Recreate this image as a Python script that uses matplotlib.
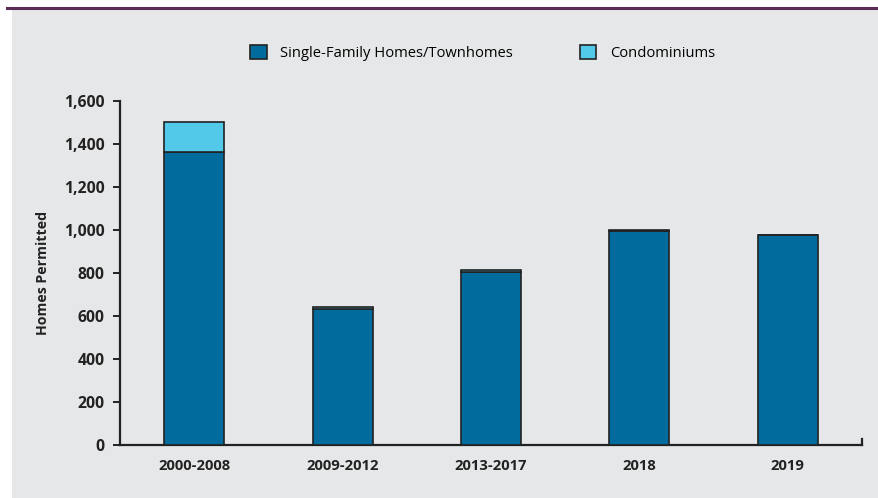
import matplotlib.pyplot as plt
from matplotlib.patches import Rectangle
from matplotlib.lines import Line2D
from matplotlib.ticker import FuncFormatter

# Homes permitted by period
periods = ['2000-2008', '2009-2012', '2013-2017', '2018', '2019']
single_family = [1362, 633, 804, 997, 976]
condos = [138, 7, 8, 3, 3]

sf_color = '#006b9c'
condo_color = '#52c9e9'
bg_color = '#e6e7e8'
edge = '#222222'

plt.rcParams['font.family'] = ['Open Sans', 'DejaVu Sans']

fig = plt.figure(figsize=(8.79, 4.98), dpi=100)
fig.patch.set_facecolor('white')

# grey panel and purple rule along the top
fig.add_artist(Rectangle((12 / 879, 0), 1, 1 - 10 / 498, transform=fig.transFigure,
                         facecolor=bg_color, edgecolor='none', zorder=0))
fig.add_artist(Line2D([7 / 879, 1], [1 - 8 / 498, 1 - 8 / 498], transform=fig.transFigure,
                      color='#5b2c55', linewidth=2.2))

ax = fig.add_axes([120 / 879, 1 - 445 / 498, 742 / 879, 344 / 498])
ax.set_facecolor(bg_color)

x = range(len(periods))
ax.bar(x, single_family, width=0.405, color=sf_color, edgecolor=edge, linewidth=1.2,
       label='Single-Family Homes/Townhomes', zorder=3)
ax.bar(x, condos, width=0.405, bottom=single_family, color=condo_color, edgecolor=edge,
       linewidth=1.2, label='Condominiums', zorder=3)

ax.set_xlim(-0.5, 4.5)
ax.set_ylim(0, 1600)
ax.set_yticks(range(0, 1601, 200))
ax.yaxis.set_major_formatter(FuncFormatter(lambda v, p: f'{int(v):,}'))
ax.set_xticks(list(x))
ax.set_xticklabels(periods)

for s in ['top', 'right']:
    ax.spines[s].set_visible(False)
for s in ['left', 'bottom']:
    ax.spines[s].set_color(edge)
    ax.spines[s].set_linewidth(1.6)

ax.tick_params(axis='y', direction='out', length=5, width=1.4, color=edge,
               labelsize=11.3, pad=6, labelcolor=edge)
ax.tick_params(axis='x', length=0, labelsize=10.6, pad=10, labelcolor=edge)
for lbl in ax.get_xticklabels() + ax.get_yticklabels():
    lbl.set_fontweight('bold')

# small end tick on the x axis
ax.plot([4.5, 4.5], [0, 30], color=edge, linewidth=1.6, clip_on=False, zorder=4)

ax.set_ylabel('Homes Permitted', fontsize=10.2, fontweight='bold', color=edge, labelpad=10)

fig.legend(loc='center', bbox_to_anchor=(0.549, 1 - 53 / 498), ncol=2, frameon=False,
           fontsize=10.6, handlelength=1.1, handleheight=1.1, columnspacing=4.6,
           handletextpad=0.9)

plt.savefig('out.png', dpi=100, facecolor=fig.get_facecolor())
